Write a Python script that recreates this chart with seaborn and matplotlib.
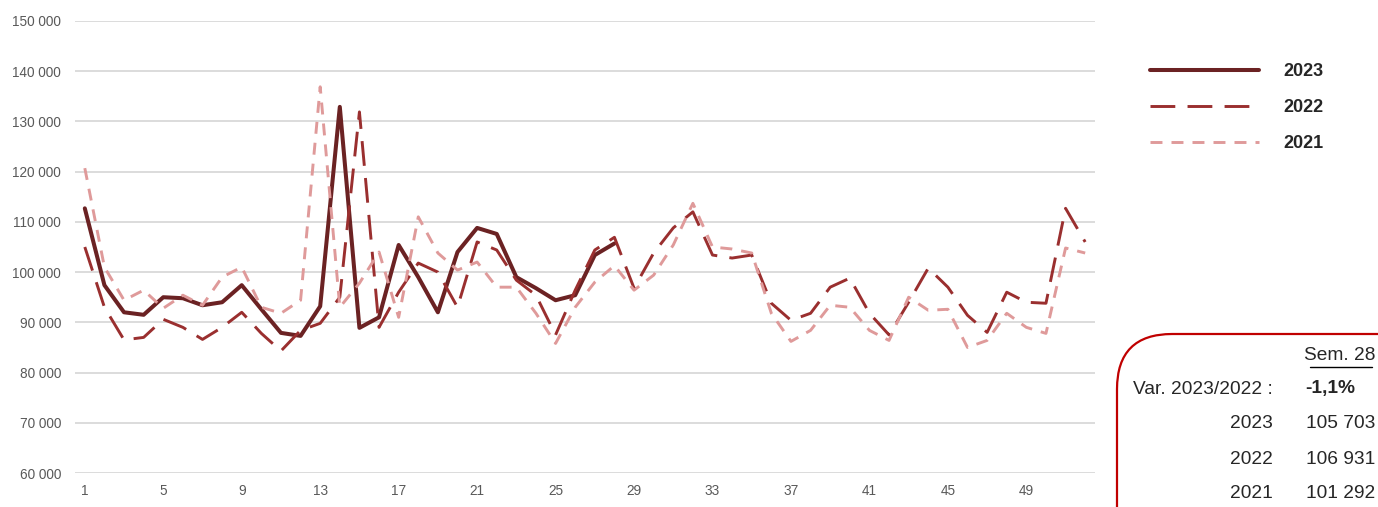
import numpy as np
import pandas as pd
import matplotlib
matplotlib.use("Agg")
import matplotlib.pyplot as plt
from matplotlib.patches import FancyBboxPatch
import matplotlib.ticker as ticker
import seaborn as sns

weeks = list(range(1, 53))

# weekly values
v2023 = [112700, 97400, 92000, 91500, 95000, 94800, 93400, 94000, 97400, 92600,
         87900, 87300, 93200, 132900, 88900, 91000, 105400, 99000, 92000, 104000,
         108800, 107600, 99000, 96800, 94400, 95400, 103400, 105703]
v2022 = [105000, 93000, 86500, 87000, 90600, 89000, 86600, 89000, 92000, 87800,
         84300, 88400, 89800, 95000, 131900, 89000, 96000, 101800, 100000, 93000,
         106000, 104400, 98400, 95400, 87500, 96400, 104400, 106931, 96800, 103800,
         108800, 112000, 103400, 102800, 103400, 93800, 90400, 91800, 97000, 98800,
         91800, 87500, 94000, 100800, 97000, 91400, 88000, 96000, 94000, 93800,
         112700, 106000]
v2021 = [120700, 101000, 94400, 96400, 92800, 95400, 93400, 99000, 101000, 93000,
         91800, 94400, 136900, 93000, 97800, 104000, 91000, 111000, 103800, 100400,
         102000, 97000, 97000, 91800, 85800, 93000, 98000, 101292, 96400, 99400,
         105400, 113700, 105000, 104600, 103800, 91800, 86200, 88400, 93400, 93000,
         88400, 86400, 95000, 92400, 92600, 85000, 86400, 91800, 89000, 87800,
         104800, 103800]

years = ["2023", "2022", "2021"]
colors = {"2023": "#6b2223", "2022": "#9a2f2f", "2021": "#df9a9a"}
widths = {"2023": 2.9, "2022": 2.1, "2021": 2.1}
dash_styles = {"2023": "", "2022": (8.5, 4.2), "2021": (4.1, 3.1)}

series = {"2023": v2023, "2022": v2022, "2021": v2021}
rows = []
for y in years:
    for w, v in zip(weeks, series[y]):
        rows.append({"week": w, "value": v, "year": y})
df = pd.DataFrame(rows)

sns.set_style("white")
plt.rcParams["font.family"] = ["Liberation Sans", "DejaVu Sans"]

fig = plt.figure(figsize=(13.78, 5.07), dpi=100)
ax = fig.add_axes([75 / 1378, 34 / 507, 1020 / 1378, 452 / 507])

for y in years:
    d = df[df["year"] == y]
    sns.lineplot(data=d, x="week", y="value", ax=ax, color=colors[y],
                 linewidth=widths[y], label=y, legend=False)
    ln = ax.get_lines()[-1]
    if dash_styles[y]:
        ln.set_dashes(dash_styles[y])
    ln.set_solid_capstyle("round")
    ln.set_dash_capstyle("butt")

ax.set_xlim(0.5, 52.5)
ax.set_ylim(60000, 150000)
ax.set_yticks(range(60000, 150001, 10000))
ax.yaxis.set_major_formatter(ticker.FuncFormatter(lambda v, p: f"{int(v):,}".replace(",", " ")))
ax.set_xticks(range(1, 53, 4))
ax.grid(True, axis="y", color="#d9d9d9", linewidth=1.3)
ax.set_axisbelow(True)
for s in ax.spines.values():
    s.set_visible(False)
ax.tick_params(axis="both", length=0, labelsize=9.8, labelcolor="#595959")
ax.tick_params(axis="y", pad=10)
ax.tick_params(axis="x", pad=8)
ax.set_xlabel("")
ax.set_ylabel("")

handles = ax.get_lines()[:3]
leg = fig.legend(handles, years, loc="upper left", bbox_to_anchor=(1134 / 1378, 460 / 507),
                 frameon=False, handlelength=6.0, labelspacing=1.05, handletextpad=1.4,
                 prop={"weight": "bold", "size": 13})

box = FancyBboxPatch((1117 / 1378, -0.2), 0.3, 0.2 + 173 / 507,
                     boxstyle="round,pad=0,rounding_size=0.04",
                     transform=fig.transFigure, facecolor="white",
                     edgecolor="#c00000", linewidth=1.6, clip_on=False,
                     mutation_aspect=1378 / 507)
fig.patches.append(box)

fs = 13.8
fig.text(1340 / 1378, 1 - 356 / 507, "Sem. 28", ha="center", va="center", fontsize=fs)
fig.add_artist(plt.Line2D([1310 / 1378, 1372 / 1378], [1 - 367 / 507, 1 - 367 / 507],
                          color="black", linewidth=1.0, transform=fig.transFigure))
fig.text(1273 / 1378, 1 - 389 / 507, "Var. 2023/2022 :", ha="right", va="center", fontsize=fs)
fig.text(1330 / 1378, 1 - 389 / 507, "-1,1%", ha="center", va="center", fontsize=fs, weight="bold")
vals = {"2023": "105 703", "2022": "106 931", "2021": "101 292"}
for i, y in enumerate(years):
    yy = 1 - (424 + 35 * i) / 507
    fig.text(1273 / 1378, yy, y, ha="right", va="center", fontsize=fs)
    fig.text(1306 / 1378, yy, vals[y], ha="left", va="center", fontsize=fs)

fig.savefig("out.png", dpi=100, facecolor="white")
